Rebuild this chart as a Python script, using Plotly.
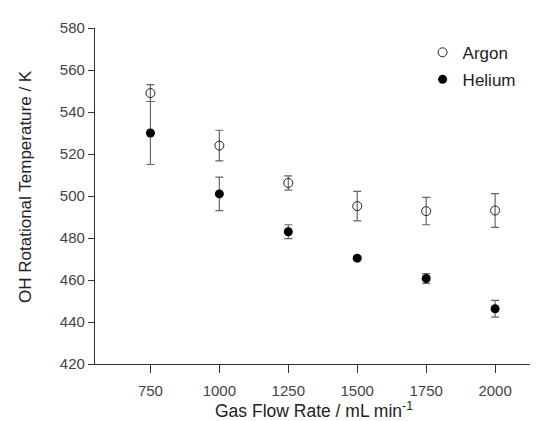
import plotly.graph_objects as go

flow = [750, 1000, 1250, 1500, 1750, 2000]
argon = [549, 524, 506.2, 495.2, 492.8, 493.1]
argon_err = [4, 7.3, 3.4, 7, 6.5, 8]
helium = [530, 501, 483, 470.4, 460.7, 446.3]
helium_err = [15, 8, 3.3, 1, 2.3, 4]
xticks = [750, 1000, 1250, 1500, 1750, 2000]
yticks = [420, 440, 460, 480, 500, 520, 540, 560, 580]
x_title = "Gas Flow Rate / mL min<sup>-1</sup>"
y_title = "OH Rotational Temperature / K"

font = "Liberation Sans, Arial, sans-serif"
fig = go.Figure()
fig.add_trace(go.Scatter(
    x=flow, y=argon, mode="markers", name="Argon", legendgroup="a",
    marker=dict(symbol="circle-open", size=9, color="#222", line=dict(width=1, color="#222")),
    error_y=dict(type="data", array=argon_err, color="#666", thickness=1.2, width=4),
))
fig.add_trace(go.Scatter(
    x=flow, y=helium, mode="markers", name="Helium", legendgroup="h",
    marker=dict(symbol="circle", size=9, color="#000"),
    error_y=dict(type="data", array=helium_err, color="#666", thickness=1.2, width=4),
))
fig.update_layout(
    width=538, height=421,
    margin=dict(l=87, r=1, t=20, b=65),
    plot_bgcolor="white", paper_bgcolor="white",
    font=dict(family=font, color="#333", size=15),
    showlegend=True,
    legend=dict(x=0.728, y=0.98, xanchor="left", yanchor="top",
                font=dict(size=17, color="#222"), bgcolor="rgba(0,0,0,0)",
                tracegroupgap=2),
    annotations=[
        dict(text=x_title, xref="paper", yref="paper", x=0.487, y=-59 / 336,
             xanchor="center", yanchor="bottom", showarrow=False,
             font=dict(size=17.5, color="#222")),
        dict(text=y_title, xref="paper", yref="paper", x=-69 / 450, y=0.527,
             xanchor="center", yanchor="middle", showarrow=False, textangle=-90,
             font=dict(size=17, color="#222")),
    ],
)
fig.update_xaxes(
    range=[549, 2181], tickvals=xticks, ticks="outside", ticklen=8,
    tickcolor="#333", showline=True, linecolor="#333", linewidth=1.2,
    showgrid=False, zeroline=False, automargin=False, ticklabelstandoff=5,
    tickfont=dict(size=15, color="#444"),
)
fig.update_yaxes(
    range=[420, 580], tickvals=yticks, ticks="outside", ticklen=6,
    tickcolor="#333", showline=True, linecolor="#333", linewidth=1.2,
    showgrid=False, zeroline=False, automargin=False,
    tickfont=dict(size=15, color="#444"),
)
fig.write_html("out.html")
